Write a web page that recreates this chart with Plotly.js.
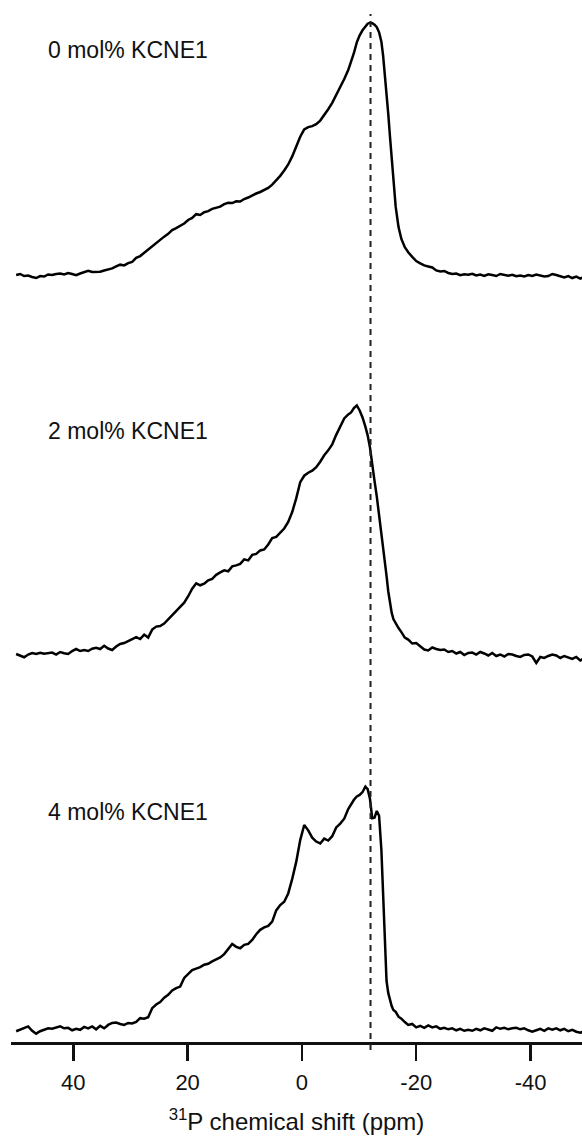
<!DOCTYPE html>
<html>
<head>
<meta charset="utf-8">
<script src="https://cdn.plot.ly/plotly-3.0.1.min.js"></script>
<style>html,body{margin:0;padding:0;background:#fff;}#chart{width:582px;height:1142px;}</style>
</head>
<body>
<div id="chart"></div>
<script>
// 31P chemical shift axis (ppm)
const shift = [
 50.0, 49.3, 48.6, 47.9, 47.2, 46.5, 45.8, 45.1, 44.4, 43.7, 43.0, 42.3, 41.6, 40.9, 40.2, 39.5, 38.8, 38.1, 37.4, 36.7,
 36.0, 35.3, 34.6, 33.9, 33.2, 32.5, 31.8, 31.1, 30.4, 29.7, 29.0, 28.3, 27.6, 26.9, 26.2, 25.5, 24.8, 24.1, 23.4, 22.7,
 22.0, 21.3, 20.6, 19.9, 19.2, 18.5, 17.8, 17.1, 16.4, 15.7, 15.0, 14.3, 13.6, 12.9, 12.2, 11.5, 10.8, 10.1, 9.4, 8.7,
 8.0, 7.3, 6.6, 5.9, 5.2, 4.5, 3.8, 3.1, 2.4, 1.7, 1.0, 0.3, -0.4, -1.1, -1.8, -2.5, -3.2, -3.9, -4.6, -5.3,
 -6.0, -6.7, -7.4,
 -8.1, -8.6, -9.1, -9.6, -10.1, -10.6, -11.1, -11.5, -11.9, -12.3, -12.7, -13.1, -13.5, -13.9, -14.2, -14.5,
 -14.8, -15.1, -15.4, -15.7, -16.0, -16.4, -16.9, -17.4, -18.0, -18.6, -19.3,
 -20.0, -20.7, -21.4, -22.1, -22.8, -23.5, -24.2, -24.9, -25.6, -26.3, -27.0, -27.7, -28.4, -29.1, -29.8, -30.5,
 -31.2, -31.9, -32.6, -33.3, -34.0, -34.7, -35.4, -36.1, -36.8, -37.5, -38.2, -38.9, -39.6, -40.3, -41.0, -41.7,
 -42.4, -43.1, -43.8, -44.5, -45.2, -45.9, -46.6, -47.3, -48.0, -48.7, -49.4
];

// normalized intensity, 0 mol% KCNE1
const int0 = [
 0.000, 0.004, -0.004, -0.002, -0.008, -0.012, -0.004, -0.006, 0.002, 0.000, 0.004, 0.006, 0.002, 0.008, 0.004, -0.001, 0.006, 0.012, 0.017, 0.012,
 0.014, 0.013, 0.018, 0.022, 0.026, 0.034, 0.041, 0.038, 0.047, 0.052, 0.068, 0.075, 0.088, 0.099, 0.112, 0.126, 0.141, 0.152, 0.163, 0.178,
 0.186, 0.196, 0.204, 0.218, 0.226, 0.241, 0.238, 0.249, 0.253, 0.262, 0.268, 0.271, 0.281, 0.286, 0.285, 0.292, 0.291, 0.301, 0.307, 0.316,
 0.323, 0.329, 0.336, 0.345, 0.358, 0.374, 0.393, 0.414, 0.438, 0.470, 0.510, 0.548, 0.577, 0.586, 0.590, 0.598, 0.612, 0.633, 0.657, 0.682,
 0.712, 0.745, 0.777,
 0.812, 0.844, 0.880, 0.922, 0.950, 0.970, 0.986, 0.996, 1.000, 0.998, 0.992, 0.982, 0.962, 0.925, 0.870, 0.800,
 0.725, 0.640, 0.550, 0.455, 0.365, 0.271, 0.190, 0.143, 0.110, 0.090, 0.072,
 0.055, 0.046, 0.038, 0.034, 0.030, 0.018, 0.014, 0.016, 0.008, 0.004, 0.006, -0.001, 0.003, 0.001, 0.005, -0.002,
 0.002, -0.004, 0.003, 0.000, -0.004, 0.004, 0.000, -0.003, 0.001, -0.005, -0.002, -0.006, 0.000, -0.004, 0.002, -0.001,
 -0.006, -0.004, 0.004, 0.000, -0.006, -0.010, -0.004, -0.012, -0.006, -0.014, -0.008
];

// normalized intensity, 2 mol% KCNE1
const int2 = [
 0.000, -0.008, -0.013, -0.002, 0.004, 0.000, 0.005, 0.001, 0.004, 0.006, -0.002, 0.008, 0.003, 0.000, 0.012, 0.020, 0.012, 0.016, 0.012, 0.021,
 0.025, 0.020, 0.033, 0.022, 0.016, 0.030, 0.040, 0.044, 0.052, 0.060, 0.068, 0.060, 0.078, 0.066, 0.098, 0.110, 0.112, 0.122, 0.138, 0.154,
 0.170, 0.186, 0.206, 0.232, 0.262, 0.284, 0.276, 0.282, 0.296, 0.302, 0.318, 0.328, 0.336, 0.332, 0.352, 0.356, 0.362, 0.380, 0.376, 0.398,
 0.402, 0.416, 0.420, 0.440, 0.466, 0.470, 0.486, 0.504, 0.530, 0.570, 0.625, 0.690, 0.716, 0.728, 0.736, 0.750, 0.772, 0.798, 0.818, 0.842,
 0.880, 0.912, 0.946,
 0.962, 0.970, 0.988, 0.998, 0.978, 0.950, 0.913, 0.878, 0.830, 0.755, 0.695, 0.632, 0.560, 0.490, 0.440, 0.385,
 0.315, 0.252, 0.205, 0.166, 0.140, 0.122, 0.104, 0.088, 0.066, 0.058, 0.042,
 0.044, 0.030, 0.018, 0.014, 0.026, 0.020, 0.016, 0.018, 0.008, 0.012, 0.002, 0.008, -0.004, 0.004, 0.006, -0.002,
 0.008, 0.002, -0.006, 0.004, -0.008, -0.002, -0.010, 0.000, -0.002, -0.008, -0.012, -0.004, -0.002, -0.010, -0.036, -0.012,
 -0.016, -0.008, -0.002, -0.006, -0.016, -0.008, -0.014, -0.020, -0.012, -0.026, -0.016
];

// normalized intensity, 4 mol% KCNE1
const int4 = [
 -0.008, -0.002, 0.004, 0.012, -0.006, -0.018, -0.008, -0.002, 0.004, 0.002, 0.006, 0.012, 0.004, 0.006, -0.004, 0.002, -0.002, 0.010, 0.004, 0.012,
 0.000, 0.014, 0.004, 0.018, 0.026, 0.028, 0.022, 0.018, 0.026, 0.024, 0.030, 0.046, 0.044, 0.050, 0.087, 0.102, 0.112, 0.130, 0.142, 0.160,
 0.170, 0.176, 0.212, 0.226, 0.244, 0.250, 0.256, 0.266, 0.270, 0.280, 0.288, 0.296, 0.310, 0.330, 0.352, 0.340, 0.334, 0.348, 0.352, 0.368,
 0.392, 0.410, 0.420, 0.426, 0.444, 0.490, 0.512, 0.526, 0.560, 0.620, 0.690, 0.780, 0.842, 0.820, 0.790, 0.774, 0.766, 0.786, 0.778, 0.796,
 0.832, 0.848, 0.868,
 0.908, 0.930, 0.946, 0.960, 0.966, 0.978, 1.000, 0.990, 0.950, 0.870, 0.872, 0.900, 0.880, 0.740, 0.540, 0.330,
 0.200, 0.150, 0.118, 0.096, 0.080, 0.072, 0.052, 0.044, 0.030, 0.018, 0.022,
 0.008, 0.014, 0.006, 0.016, 0.008, 0.012, 0.002, 0.006, 0.000, 0.004, -0.004, 0.002, -0.006, -0.002, -0.006, 0.002,
 -0.004, 0.004, 0.000, -0.006, 0.008, 0.002, 0.006, 0.000, 0.004, 0.006, 0.000, 0.004, -0.004, -0.010, -0.004, 0.002,
 -0.006, 0.004, -0.002, 0.004, -0.004, 0.002, -0.008, -0.002, -0.010, -0.014, -0.008
];

const labels = ["0 mol% KCNE1", "2 mol% KCNE1", "4 mol% KCNE1"];
const tickVals = [40, 20, 0, -20, -40];
const tickText = ["40", "20", "0", "-20", "-40"];
const referenceShift = [-12];

// ---- layout (pixel geometry) ----
const W = 582, H = 1142;
const mL = 11, mR = 0, mT = 14, mB = 100;
const plotTop = mT, plotBottom = H - mB, plotH = plotBottom - plotTop, plotW = W - mL - mR;
// baseline / peak pixel rows for each stacked spectrum
const rows = [[275, 22.7], [654, 405], [1029.3, 786.7]];
function yRange(r) { const d = r[0] - r[1]; return [(r[0] - plotBottom) / d, (r[0] - plotTop) / d]; }
const labelRows = [50, 431, 812];
const labelX = 46;

const font = "Liberation Sans, Arial, Helvetica, sans-serif";
const series = [int0, int2, int4];
const yNames = ['y3', 'y2', 'y'];

const traces = series.map((s, i) => ({
  x: shift, y: s, type: 'scatter', mode: 'lines',
  yaxis: yNames[i],
  line: { color: '#000', width: 2.5 },
  hoverinfo: 'skip'
}));

const hiddenY = (r, over) => Object.assign({
  range: yRange(r), visible: false, showgrid: false, zeroline: false, fixedrange: true
}, over ? { overlaying: 'y' } : {});

const layout = {
  width: W, height: H,
  margin: { l: mL, r: mR, t: mT, b: mB, pad: 0 },
  paper_bgcolor: '#fff', plot_bgcolor: '#fff',
  showlegend: false,
  font: { family: font, color: '#111' },
  xaxis: {
    range: [50.9, -49.0],
    tickmode: 'array', tickvals: tickVals, ticktext: tickText,
    ticks: 'outside', ticklen: 16, tickwidth: 2.5, tickcolor: '#111',
    ticklabelstandoff: 3,
    showline: true, linewidth: 2.5, linecolor: '#111',
    showgrid: false, zeroline: false, fixedrange: true,
    tickfont: { family: font, size: 22, color: '#111' },
    title: { text: '<sup>31</sup>P chemical shift (ppm)', font: { family: font, size: 24, color: '#111' }, standoff: 20 }
  },
  yaxis: hiddenY(rows[2], false),
  yaxis2: hiddenY(rows[1], true),
  yaxis3: hiddenY(rows[0], true),
  shapes: referenceShift.map(v => ({
    type: 'line', xref: 'x', yref: 'paper', x0: v, x1: v, y0: -8 / plotH, y1: 1,
    line: { color: '#222', width: 2, dash: '6px,5px' }
  })),
  annotations: labels.map((t, i) => ({
    text: t, xref: 'paper', yref: 'paper',
    x: (labelX - mL) / plotW, y: (plotBottom - labelRows[i]) / plotH,
    xanchor: 'left', yanchor: 'middle', showarrow: false,
    font: { family: font, size: 23, color: '#111' }
  }))
};

Plotly.newPlot('chart', traces, layout, { staticPlot: true, displayModeBar: false });
</script>
</body>
</html>
